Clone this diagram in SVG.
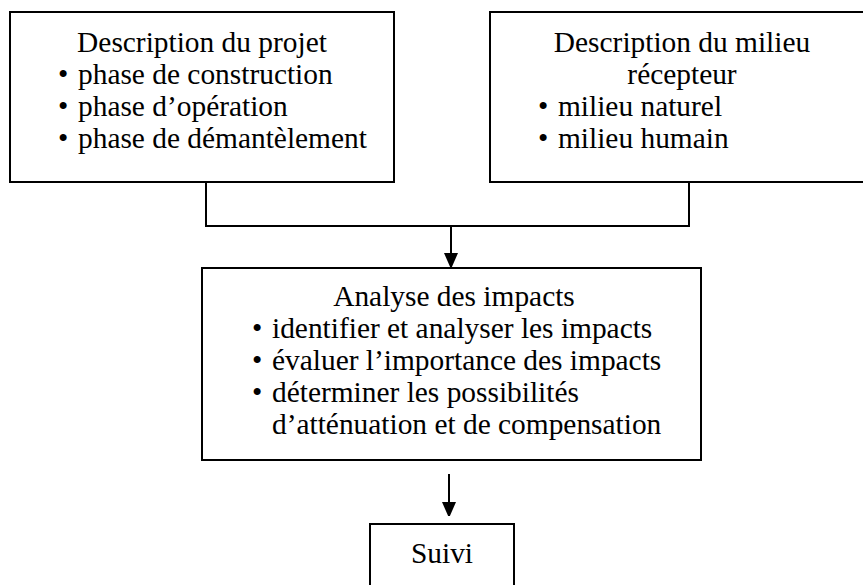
<svg xmlns="http://www.w3.org/2000/svg" width="863" height="585" viewBox="0 0 863 585">
<style>
.box{fill:#fff;stroke:#000;stroke-width:2}
.ln{fill:none;stroke:#000;stroke-width:2}
</style>
<defs>
<marker id="ah" markerWidth="14" markerHeight="16" refX="14" refY="7" orient="auto" markerUnits="userSpaceOnUse">
<path d="M0,0 L16,7 L0,14 Z" fill="#000"/>
</marker>
</defs>
<rect width="863" height="585" fill="#fff"/>
<g id="connectors">
<polyline class="ln" points="206,182 206,226 689,226 689,182"/>
<line class="ln" x1="451" y1="226" x2="451" y2="267" marker-end="url(#ah)"/>
<line class="ln" x1="449" y1="474" x2="449" y2="516" marker-end="url(#ah)"/>
</g>
<g id="projet">
<rect class="box" x="10" y="12" width="384" height="170"/>
<text x="202" y="52" text-anchor="middle" font-family="Liberation Serif, serif" font-size="29.4">Description du projet</text>
<text x="58" y="84" text-anchor="start" font-family="Liberation Serif, serif" font-size="29.4">•</text>
<text x="78" y="84" text-anchor="start" font-family="Liberation Serif, serif" font-size="29.4">phase de construction</text>
<text x="58" y="116" text-anchor="start" font-family="Liberation Serif, serif" font-size="29.4">•</text>
<text x="78" y="116" text-anchor="start" font-family="Liberation Serif, serif" font-size="29.4">phase d’opération</text>
<text x="58" y="148" text-anchor="start" font-family="Liberation Serif, serif" font-size="29.4">•</text>
<text x="78" y="148" text-anchor="start" font-family="Liberation Serif, serif" font-size="29.4">phase de démantèlement</text>
</g>
<g id="milieu">
<rect class="box" x="490" y="12" width="380" height="170"/>
<text x="682" y="52" text-anchor="middle" font-family="Liberation Serif, serif" font-size="29.4">Description du milieu</text>
<text x="682" y="84" text-anchor="middle" font-family="Liberation Serif, serif" font-size="29.4">récepteur</text>
<text x="538" y="116" text-anchor="start" font-family="Liberation Serif, serif" font-size="29.4">•</text>
<text x="558" y="116" text-anchor="start" font-family="Liberation Serif, serif" font-size="29.4">milieu naturel</text>
<text x="538" y="148" text-anchor="start" font-family="Liberation Serif, serif" font-size="29.4">•</text>
<text x="558" y="148" text-anchor="start" font-family="Liberation Serif, serif" font-size="29.4">milieu humain</text>
</g>
<g id="analyse">
<rect class="box" x="202" y="268" width="499" height="192"/>
<text x="454" y="306" text-anchor="middle" font-family="Liberation Serif, serif" font-size="29.4">Analyse des impacts</text>
<text x="252" y="338" text-anchor="start" font-family="Liberation Serif, serif" font-size="29.4">•</text>
<text x="272" y="338" text-anchor="start" font-family="Liberation Serif, serif" font-size="29.4">identifier et analyser les impacts</text>
<text x="252" y="370" text-anchor="start" font-family="Liberation Serif, serif" font-size="29.4">•</text>
<text x="272" y="370" text-anchor="start" font-family="Liberation Serif, serif" font-size="29.4">évaluer l’importance des impacts</text>
<text x="252" y="402" text-anchor="start" font-family="Liberation Serif, serif" font-size="29.4">•</text>
<text x="272" y="402" text-anchor="start" font-family="Liberation Serif, serif" font-size="29.4">déterminer les possibilités</text>
<text x="272" y="434" text-anchor="start" font-family="Liberation Serif, serif" font-size="29.4">d’atténuation et de compensation</text>
</g>
<g id="suivi">
<rect class="box" x="370" y="524" width="144" height="70"/>
<text x="442" y="563" text-anchor="middle" font-family="Liberation Serif, serif" font-size="29.4">Suivi</text>
</g>
</svg>
